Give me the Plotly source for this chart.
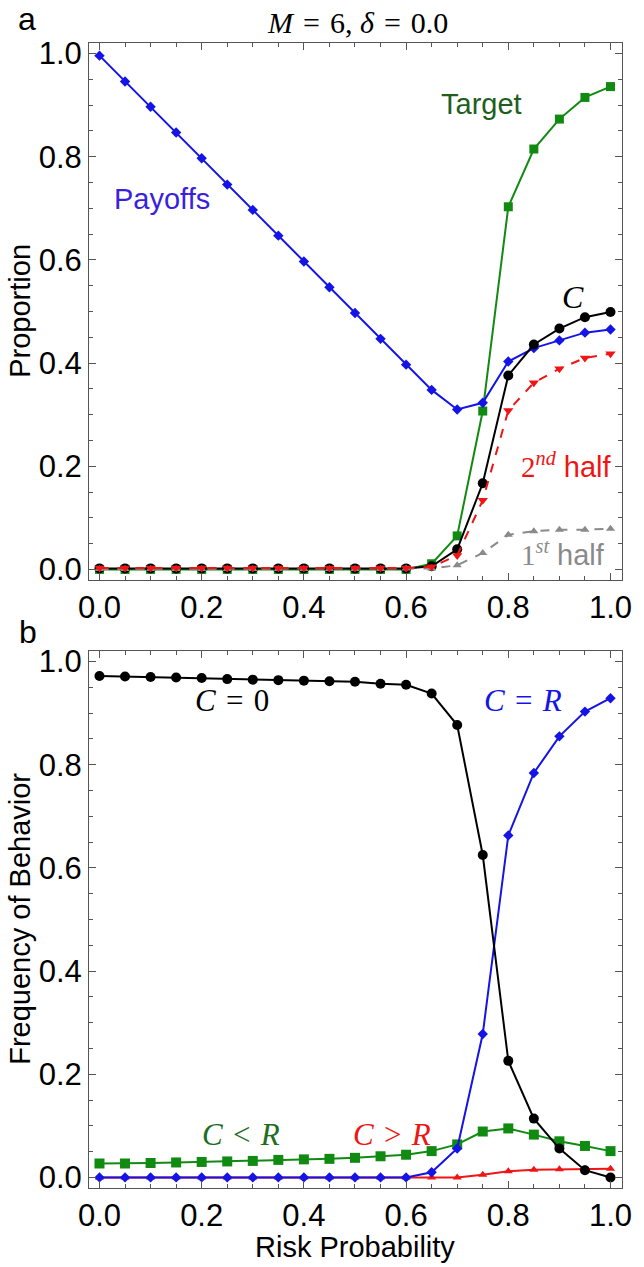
import plotly.graph_objects as go
from plotly.subplots import make_subplots

risk = [0.0, 0.05, 0.1, 0.15, 0.2, 0.25, 0.3, 0.35, 0.4, 0.45, 0.5,
        0.55, 0.6, 0.65, 0.7, 0.75, 0.8, 0.85, 0.9, 0.95, 1.0]

# Panel a
payoffs = [0.996, 0.946, 0.897, 0.847, 0.797, 0.746, 0.697, 0.647, 0.597, 0.547, 0.497,
           0.447, 0.397, 0.348, 0.310, 0.323, 0.403, 0.429, 0.444, 0.459, 0.465]
target = [0.0, 0.0, 0.0, 0.0, 0.0, 0.0, 0.0, 0.0, 0.0, 0.0, 0.0,
          0.0, 0.0, 0.011, 0.065, 0.307, 0.703, 0.815, 0.873, 0.915, 0.936]
coop = [0.002, 0.002, 0.002, 0.002, 0.002, 0.002, 0.002, 0.002, 0.002, 0.002, 0.002,
        0.002, 0.002, 0.006, 0.039, 0.167, 0.376, 0.436, 0.467, 0.489, 0.499]
second_half = [0.003, 0.003, 0.003, 0.003, 0.003, 0.003, 0.003, 0.003, 0.003, 0.003, 0.003,
               0.003, 0.003, 0.005, 0.027, 0.134, 0.308, 0.362, 0.389, 0.410, 0.418]
first_half = [0.001, 0.001, 0.001, 0.001, 0.001, 0.001, 0.001, 0.001, 0.001, 0.001, 0.001,
              0.001, 0.002, 0.002, 0.008, 0.032, 0.067, 0.074, 0.077, 0.077, 0.079]

# Panel b
c_zero = [0.972, 0.971, 0.970, 0.969, 0.968, 0.966, 0.965, 0.964, 0.963, 0.962, 0.961,
          0.957, 0.955, 0.938, 0.877, 0.625, 0.226, 0.114, 0.056, 0.014, 0.0]
c_eq_r = [0.0, 0.0, 0.0, 0.0, 0.0, 0.0, 0.0, 0.0, 0.0, 0.0, 0.0,
          0.0, 0.0, 0.010, 0.056, 0.278, 0.663, 0.784, 0.855, 0.903, 0.929]
c_lt_r = [0.027, 0.027, 0.028, 0.029, 0.030, 0.031, 0.032, 0.034, 0.035, 0.036, 0.038,
          0.041, 0.044, 0.051, 0.064, 0.089, 0.095, 0.083, 0.070, 0.061, 0.051]
c_gt_r = [0.0, 0.0, 0.0, 0.0, 0.0, 0.0, 0.0, 0.0, 0.0, 0.0, 0.0,
          0.0, 0.0, 0.0, 0.0, 0.005, 0.012, 0.015, 0.016, 0.017, 0.017]

tick_vals = [0.0, 0.2, 0.4, 0.6, 0.8, 1.0]
tick_text = ["0.0", "0.2", "0.4", "0.6", "0.8", "1.0"]

BLUE = "#1414e6"
GREEN = "#118a11"
BLACK = "#000000"
RED = "#f01414"
GRAY = "#8a8a8a"
SANS = "Liberation Sans"
SERIF = "Liberation Serif"
SP = "\u2004"

fig = make_subplots(rows=2, cols=1, vertical_spacing=0.062)


def add(row, y, color, symbol, size, dash="solid", width=2):
    fig.add_trace(go.Scatter(x=risk, y=y, mode="lines+markers",
                             line=dict(color=color, width=width, dash=dash),
                             marker=dict(symbol=symbol, size=size, color=color),
                             showlegend=False, hoverinfo="skip"), row=row, col=1)


add(1, target, GREEN, "square", 9)
add(1, payoffs, BLUE, "diamond", 8)
add(1, coop, BLACK, "circle", 10)
add(1, first_half, GRAY, "triangle-up", 8, dash="dash")
add(1, second_half, RED, "triangle-down", 9, dash="dash")

add(2, c_lt_r, GREEN, "square", 10)
add(2, c_gt_r, RED, "triangle-up", 8)
add(2, c_eq_r, BLUE, "diamond", 8)
add(2, c_zero, BLACK, "circle", 10)

axis_common = dict(range=[-0.0205, 1.0225], showline=True, linecolor="#555555", linewidth=1,
                   mirror="allticks", ticks="inside", ticklen=7, tickcolor="#555555",
                   tickvals=tick_vals, ticktext=tick_text, showgrid=False, zeroline=False,
                   tickfont=dict(family=SANS, size=31, color="black"),
                   minor=dict(dtick=0.05, ticks="inside", ticklen=4, tickcolor="#555555",
                              showgrid=False))
yaxis_common = dict(axis_common)
yaxis_common["range"] = [-0.0205, 1.0205]

fig.update_xaxes(**axis_common)
fig.update_yaxes(**yaxis_common)

H = 1267
W = 644
ml, mr, mt, mb = 89, 16, 43, 79
fig.update_layout(
    width=W, height=H, margin=dict(l=ml, r=mr, t=mt, b=mb),
    paper_bgcolor="white", plot_bgcolor="white",
)
fig.update_layout(yaxis=dict(domain=[0.531, 1.0]), yaxis2=dict(domain=[0.0, 0.469]))


def px_to_paper(px, py):
    return (px - ml) / (W - ml - mr), (H - mb - py) / (H - mt - mb)


def ann_paper(px, py, text, size, color="black", family=SANS, angle=0):
    x, y = px_to_paper(px, py)
    fig.add_annotation(x=x, y=y, xref="paper", yref="paper", text=text, showarrow=False,
                       font=dict(family=family, size=size, color=color),
                       xanchor="center", yanchor="middle", textangle=angle)


def ann_data(row, x, y, text, size, color, family=SANS):
    fig.add_annotation(x=x, y=y, xref="x" if row == 1 else "x2", yref="y" if row == 1 else "y2",
                       text=text, showarrow=False, font=dict(family=family, size=size, color=color),
                       xanchor="center", yanchor="middle")


ann_paper(26, 19, "a", 32)
ann_paper(27, 632, "b", 32)
ann_paper(361, 23, "<i>M</i>" + SP + "=" + SP + "6, " + "<i>δ</i>" + SP + "=" + SP + "0.0",
          30, family=SERIF)
ann_paper(19, 311, "Proportion", 29, angle=-90)
ann_paper(19, 919, "Frequency of Behavior", 29, angle=-90)
ann_paper(358, 1247, "Risk Probability", 29)

ann_data(1, 0.123, 0.719, "Payoffs", 29, "#3a1fe0")
ann_data(1, 0.747, 0.902, "Target", 29, "#1e5e1e")
ann_data(1, 0.927, 0.528, "<i>C</i>", 32, "black", family=SERIF)
ann_data(1, 0.914, 0.202,
         "<span style='font-family:Liberation Serif'>2<sup><i>nd</i></sup></span> half", 29, RED)
ann_data(1, 0.908, 0.032,
         "<span style='font-family:Liberation Serif'>1<sup><i>st</i></sup></span> half", 29, GRAY)

ann_data(2, 0.259, 0.924, "<i>C</i>" + SP + "=" + SP + "0", 31, "black", family=SERIF)
ann_data(2, 0.829, 0.924, "<i>C</i>" + SP + "=" + SP + "<i>R</i>", 31, BLUE, family=SERIF)
ann_data(2, 0.276, 0.0825, "<i>C</i>" + SP + "&lt;" + SP + "<i>R</i>", 31, "#1e6e1e", family=SERIF)
ann_data(2, 0.573, 0.0825, "<i>C</i>" + SP + "&gt;" + SP + "<i>R</i>", 31, RED, family=SERIF)

fig.write_html("out.html", config={"displayModeBar": False},
               post_script="document.body.style.margin='0';document.body.style.overflow='hidden';")
